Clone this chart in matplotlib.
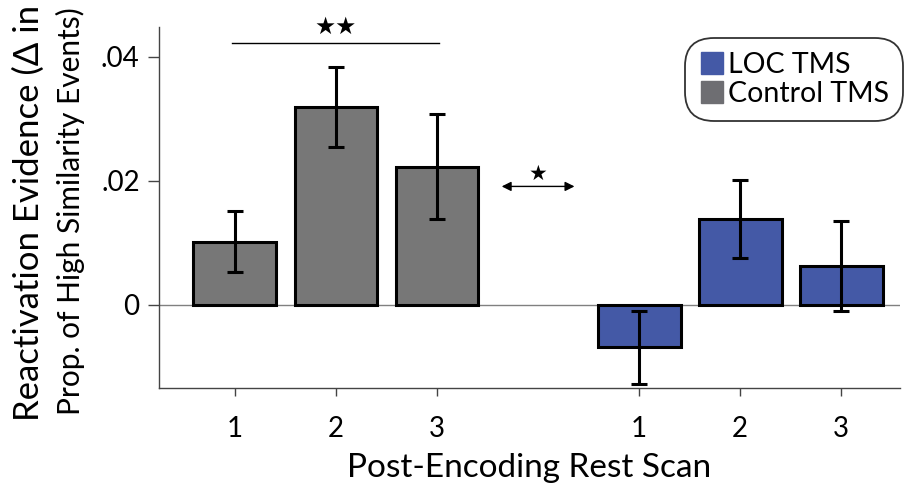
import matplotlib
matplotlib.use("Agg")
import matplotlib.pyplot as plt
from matplotlib.lines import Line2D

plt.rcParams['font.family'] = ['Lato', 'DejaVu Sans']

# data
scans = [1, 2, 3]
control_x = [1, 2, 3]
loc_x = [5, 6, 7]
control_mean = [0.0102, 0.0319, 0.0223]
control_err = [0.0049, 0.0064, 0.0085]
loc_mean = [-0.0068, 0.0138, 0.0063]
loc_err = [0.0059, 0.0063, 0.0073]

gray = '#777777'
blue = '#4459a6'

fig = plt.figure(figsize=(9.09, 4.90), dpi=100)
ax = fig.add_axes([0.175, 0.208, 0.815, 0.737])

ax.axhline(0, color='#808080', lw=1.0, zorder=0)

ax.bar(control_x, control_mean, width=0.82, color=gray, edgecolor='black', linewidth=2.2, zorder=2)
ax.bar(loc_x, loc_mean, width=0.82, color=blue, edgecolor='black', linewidth=2.2, zorder=2)
ax.errorbar(control_x, control_mean, yerr=control_err, fmt='none', ecolor='black',
            elinewidth=2.2, capsize=6, capthick=2.2, zorder=3)
ax.errorbar(loc_x, loc_mean, yerr=loc_err, fmt='none', ecolor='black',
            elinewidth=2.2, capsize=6, capthick=2.2, zorder=3)

# significance marks
ax.plot([0.97, 3.02], [0.0422, 0.0422], color='black', lw=1.0)
ax.text(2.0, 0.0428, '★★', ha='center', va='bottom', fontsize=17, family='DejaVu Sans')
ax.annotate('', xy=(3.64, 0.0191), xytext=(4.36, 0.0191),
            arrowprops=dict(arrowstyle='<|-|>', color='black', lw=1.0,
                            mutation_scale=14, shrinkA=0, shrinkB=0))
ax.text(4.0, 0.0195, '★', ha='center', va='bottom', fontsize=15, family='DejaVu Sans')

ax.set_xlim(0.25, 7.58)
ax.set_ylim(-0.0134, 0.0448)
ax.set_xticks(control_x + loc_x)
ax.set_xticklabels([str(s) for s in scans] * 2)
ax.set_yticks([0, 0.02, 0.04])
ax.set_yticklabels(['0', '.02', '.04'])
ax.tick_params(axis='both', labelsize=20, color='#444444', width=1.0)
ax.tick_params(axis='y', length=8, pad=6)
ax.tick_params(axis='x', length=6, pad=14)

for side in ['top', 'right']:
    ax.spines[side].set_visible(False)
for side in ['left', 'bottom']:
    ax.spines[side].set_color('#444444')
    ax.spines[side].set_linewidth(1.0)

ax.set_xlabel('Post-Encoding Rest Scan', fontsize=24, labelpad=8)
fig.text(0.032, 0.565, 'Reactivation Evidence (Δ in', rotation=90, ha='center', va='center', fontsize=25)
fig.text(0.078, 0.57, 'Prop. of High Similarity Events)', rotation=90, ha='center', va='center', fontsize=21.5)

handles = [Line2D([], [], marker='s', ls='', color=blue, markersize=16),
           Line2D([], [], marker='s', ls='', color='#6e6e72', markersize=16)]
leg = ax.legend(handles, ['LOC TMS', 'Control TMS'], loc='upper right',
                bbox_to_anchor=(0.997, 0.955), fontsize=20.5, frameon=True, fancybox=True,
                handletextpad=0.1, handlelength=0.9, borderpad=0.3, labelspacing=0.1,
                borderaxespad=0)
leg.get_frame().set_edgecolor('black')
leg.get_frame().set_linewidth(1.3)
leg.get_frame().set_boxstyle('round', pad=0.2, rounding_size=1.0)

fig.savefig('out.png', dpi=100)
